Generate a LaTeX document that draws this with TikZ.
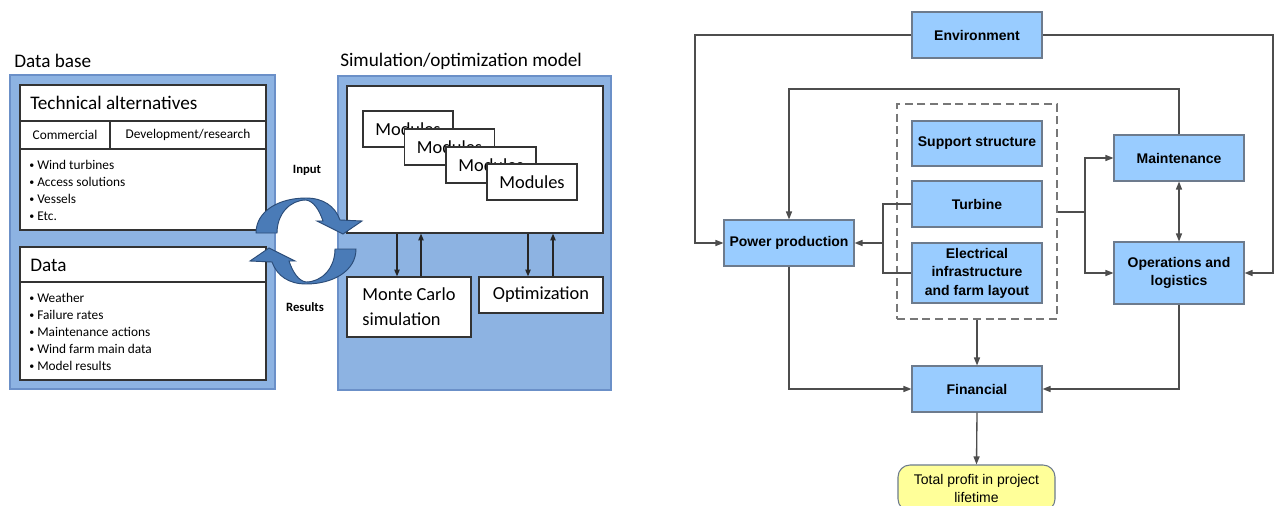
\documentclass[tikz,border=0pt]{standalone}
\usepackage{fontspec}
\setmainfont{Carlito}
\newfontfamily\arialf{Liberation Sans}
\usetikzlibrary{arrows.meta}
\definecolor{frameblue}{HTML}{8DB3E2}
\definecolor{framebd}{HTML}{6B90C8}
\definecolor{arrowfill}{HTML}{4A7BB7}
\definecolor{arrowbd}{HTML}{2B4C78}
\definecolor{boxblue}{HTML}{99CCFF}
\definecolor{boxbd}{HTML}{6D7B8D}
\definecolor{ylw}{HTML}{FFFF99}
\definecolor{lngray}{HTML}{4D4D4D}
\definecolor{dashgray}{HTML}{777777}
\newcommand\sbul{{\fontsize{7.5}{7.5}\selectfont\raisebox{0.2ex}{\textbullet}}\ }
\begin{document}
\begin{tikzpicture}[x=0.75pt,y=-0.75pt,
  sz/.style 2 args={minimum width=#1*0.75pt, minimum height=#2*0.75pt},
  dbframe/.style={draw=framebd, fill=frameblue, line width=1.8pt, inner sep=0pt},
  whitebox/.style={draw=black!80, fill=white, line width=1pt, inner sep=0pt},
  biglbl/.style={font=\fontsize{14.4}{16}\selectfont, inner sep=0pt},
  smalltxt/.style={font=\fontsize{10}{12.75}\selectfont, inner sep=0pt},
  modtxt/.style={font=\fontsize{13.8}{18.75}\selectfont},
  cyclbl/.style={font=\bfseries\fontsize{9.5}{11}\selectfont, inner sep=0pt},
  larr/.style={draw=black!85, line width=0.9pt, -{Triangle[length=5pt,width=4pt]}},
  bluebox/.style={draw=boxbd, fill=boxblue, line width=0.8pt, inner sep=1pt, align=center,
     font=\arialf\bfseries\fontsize{10.5}{13.9}\selectfont},
  dashbox/.style={draw=dashgray, line width=1.2pt, dash pattern=on 6pt off 3.5pt, inner sep=0pt},
  plainline/.style={draw=lngray, line width=1pt},
  flow/.style={draw=lngray, line width=1pt, -{Triangle[length=6pt,width=4.5pt]}},
  biflow/.style={draw=lngray, line width=1pt, {Triangle[length=6pt,width=4.5pt]}-{Triangle[length=6pt,width=4.5pt]}}
]
\useasboundingbox (0,0) rectangle (1278,506);
\fill[white] (0,0) rectangle (1278,506);

% ================= LEFT: Data base =================
\node[biglbl, anchor=west] (dblbl) at (14,61) {Data base};
\node[dbframe, sz={265}{314}] (dbf) at (142.5,232) {};
\node[whitebox, sz={246}{145}] (tech) at (143,157.5) {};
\draw[black!80, line width=1pt] (20,121) -- (266,121);
\draw[black!80, line width=1pt] (20,149) -- (266,149);
\draw[black!80, line width=1pt] (110,121) -- (110,149);
\node[biglbl, anchor=west] (techt) at (30,103) {Technical alternatives};
\node[smalltxt] (comm) at (65,135) {Commercial};
\node[smalltxt] (devr) at (188,135) {Development/research};
\node[smalltxt, anchor=west, align=left] (techl) at (29,190.5)
  {\sbul Wind turbines\\\sbul Access solutions\\\sbul Vessels\\\sbul Etc.};

\node[whitebox, sz={246}{133}] (data) at (143,313.5) {};
\draw[black!80, line width=1pt] (20,282) -- (266,282);
\node[biglbl, anchor=west] (datat) at (30,265) {Data};
\node[smalltxt, anchor=west, align=left] (datal) at (29,331.5)
  {\sbul Weather\\\sbul Failure rates\\\sbul Maintenance actions\\\sbul Wind farm main data\\\sbul Model results};

% ================= LEFT: Simulation model =================
\node[biglbl, anchor=west] (simlbl) at (340,61) {Simulation/optimization model};
\node[dbframe, sz={273}{314}] (simf) at (474.5,233) {};
\node[whitebox, sz={256}{147}] (simin) at (475,159.5) {};
\node[whitebox, modtxt, sz={90}{36}] (m1) at (408,129) {Modules};
\node[whitebox, modtxt, sz={90}{36}] (m2) at (449.5,147) {Modules};
\node[whitebox, modtxt, sz={90}{36}] (m3) at (491,165) {Modules};
\node[whitebox, modtxt, sz={90}{36}] (m4) at (532,182) {Modules};

\node[whitebox, modtxt, align=left, sz={124}{60}] (mc) at (409,307) {Monte Carlo\\simulation};
\node[whitebox, modtxt, sz={124}{36}] (opt) at (541,295) {Optimization};

\coordinate (a1) at (397,0);
\coordinate (a2) at (421,0);
\coordinate (a3) at (528,0);
\coordinate (a4) at (553,0);
\draw[larr] (simin.south -| a1) -- (mc.north -| a1);
\draw[larr] (mc.north -| a2) -- (simin.south -| a2);
\draw[larr] (simin.south -| a3) -- (opt.north -| a3);
\draw[larr] (opt.north -| a4) -- (simin.south -| a4);

% ================= cycle arrows =================
\filldraw[fill=arrowfill, draw=arrowbd, line width=0.7pt]
  (256,233) .. controls (256,211) and (279,198) .. (306,198)
  .. controls (323,198) and (335,206) .. (340,220)
  -- (362,221) -- (343,234) -- (317,221) -- (323,221)
  .. controls (319,209) and (313,201) .. (306,200)
  .. controls (290,200) and (277,214) .. (277,233) -- cycle;
\begin{scope}[rotate around={180:(306,241)}]
\filldraw[fill=arrowfill, draw=arrowbd, line width=0.7pt]
  (256,233) .. controls (256,211) and (279,198) .. (306,198)
  .. controls (323,198) and (335,206) .. (340,220)
  -- (362,221) -- (343,234) -- (317,221) -- (323,221)
  .. controls (319,209) and (313,201) .. (306,200)
  .. controls (290,200) and (277,214) .. (277,233) -- cycle;
\end{scope}
\node[cyclbl] (inp) at (307,170) {Input};
\node[cyclbl] (res) at (305,307) {Results};

% ================= RIGHT diagram =================
\node[dashbox, sz={160}{215}] (db) at (977,211.5) {};
\node[bluebox, sz={130}{46}] (env) at (977,35) {Environment};
\node[bluebox, sz={130}{46}] (pp) at (789,243) {Power production};
\node[bluebox, sz={130}{45}] (ss) at (977,143.5) {Support structure};
\node[bluebox, sz={130}{46}] (tu) at (977,204) {Turbine};
\node[bluebox, sz={130}{60}] (el) at (977,273) {Electrical\\infrastructure\\and farm layout};
\node[bluebox, sz={130}{46}] (mt) at (1179,158) {Maintenance};
\node[bluebox, sz={130}{62}] (ol) at (1179,273) {Operations and\\logistics};
\node[bluebox, sz={130}{46}] (fi) at (977,389) {Financial};
\node[draw=boxbd, fill=ylw, line width=0.8pt, rounded corners=9pt, align=center, sz={157}{46},
  font=\arialf\fontsize{10.5}{13.5}\selectfont] (tp) at (976.5,488) {Total profit in project\\lifetime};

\coordinate (lx) at (695,0);
\coordinate (rx) at (1273,0);
\coordinate (ty) at (0,89);
\coordinate (bx) at (883,0);
\coordinate (cx) at (1085,0);
\coordinate (dy) at (0,212);

\draw[flow] (env.west) -- (env.west -| lx) |- (pp.west);
\draw[flow] (env.east) -- (env.east -| rx) |- (ol.east);
\draw[flow] (mt.north) -- (mt.north |- ty) -| (pp.north);
\draw[plainline] (tu.west) -- (tu.west -| bx) |- (el.west);
\draw[flow] (pp.east -| bx) -- (pp.east);
\draw[plainline] (db.east |- dy) -- (cx |- dy);
\draw[flow] (cx |- dy) |- (mt.west);
\draw[flow] (cx |- dy) |- (ol.west);
\draw[biflow] (mt.south) -- (ol.north);
\draw[flow] (db.south) -- (fi.north);
\draw[flow] (pp.south) |- (fi.west);
\draw[flow] (ol.south) |- (fi.east);
\draw[flow] (fi.south) -- (tp.north);
\end{tikzpicture}
\end{document}
